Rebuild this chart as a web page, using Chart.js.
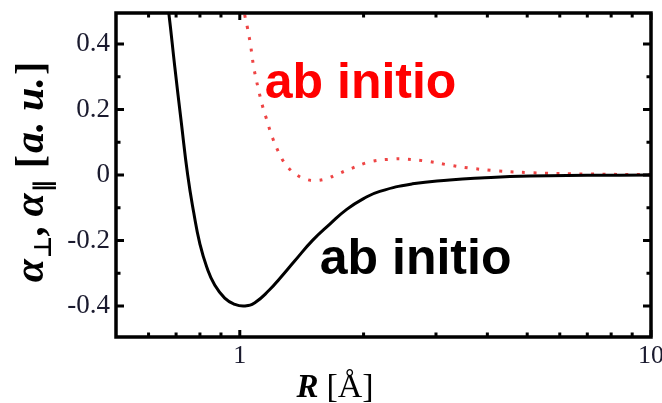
<!DOCTYPE html>
<html>
<head>
<meta charset="utf-8">
<script src="https://cdn.jsdelivr.net/npm/chart.js@4"></script>
<style>
  html, body { margin: 0; padding: 0; background: #fff; }
  #wrap { width: 662px; height: 403px; position: relative; }
</style>
</head>
<body>
<div id="wrap"><canvas id="c" width="662" height="403"></canvas></div>
<script>
// Polarizability anisotropy components vs. separation R (Å), ab initio curves
const rBlack = [0.655, 0.672, 0.695, 0.721, 0.747, 0.773, 0.799, 0.831, 0.869, 0.919, 0.972, 1.028, 1.088, 1.183, 1.251, 1.361, 1.505, 1.656, 1.82, 2.0, 2.19, 2.63, 3.24, 3.84, 5.08, 7.0, 10.0];
const alphaBlack = [0.60, 0.495, 0.33, 0.159, 0.0, -0.116, -0.208, -0.281, -0.336, -0.376, -0.395, -0.400, -0.390, -0.350, -0.316, -0.262, -0.199, -0.150, -0.105, -0.072, -0.050, -0.027, -0.015, -0.009, -0.003, -0.001, 0.0];

const rRed = [1.015, 1.028, 1.042, 1.062, 1.081, 1.108, 1.139, 1.161, 1.20, 1.263, 1.309, 1.369, 1.447, 1.537, 1.637, 1.73, 1.85, 2.07, 2.36, 2.52, 2.85, 3.24, 3.69, 4.2, 5.1, 7.0, 10.0];
const alphaRed = [0.56, 0.49, 0.455, 0.397, 0.33, 0.266, 0.205, 0.172, 0.115, 0.052, 0.024, 0.002, -0.013, -0.017, -0.010, 0.003, 0.018, 0.040, 0.049, 0.049, 0.042, 0.030, 0.020, 0.013, 0.007, 0.003, 0.001];

const xTickValues = [1, 10];
const xTickLabels = ['1', '10'];
const xMinorTicks = [0.6, 0.7, 0.8, 0.9, 2, 3, 4, 5, 6, 7, 8, 9];
const yTickValues = [-0.4, -0.2, 0, 0.2, 0.4];
const yTickLabels = ['-0.4', '-0.2', '0', '0.2', '0.4'];
const yMinorTicks = [-0.3, -0.1, 0.1, 0.3];

const seriesLabels = ['ab initio', 'ab initio'];
// label anchor points in data units (left edge, baseline)
const labelAnchors = [{ x: 1.15, y: 0.235 }, { x: 1.565, y: -0.302 }];

const toPoints = (xs, ys) => xs.map((x, i) => ({ x: x, y: ys[i] }));

// Inward ticks on all four sides plus the box frame
const framePlugin = {
  id: 'frame',
  afterDatasetsDraw(chart) {
    const { ctx, chartArea: a, scales: { x, y } } = chart;
    ctx.save();
    ctx.strokeStyle = '#000';
    ctx.lineCap = 'butt';
    ctx.lineWidth = 3;
    const majorLen = 7, minorLen = 4.5;
    const tickX = (v, len) => {
      const px = x.getPixelForValue(v);
      ctx.beginPath();
      ctx.moveTo(px, a.bottom); ctx.lineTo(px, a.bottom - len);
      ctx.moveTo(px, a.top); ctx.lineTo(px, a.top + len);
      ctx.stroke();
    };
    const tickY = (v, len) => {
      const py = y.getPixelForValue(v);
      ctx.beginPath();
      ctx.moveTo(a.left, py); ctx.lineTo(a.left + len, py);
      ctx.moveTo(a.right, py); ctx.lineTo(a.right - len, py);
      ctx.stroke();
    };
    xTickValues.forEach(v => tickX(v, majorLen));
    xMinorTicks.forEach(v => tickX(v, minorLen));
    yTickValues.forEach(v => tickY(v, majorLen + 1));
    yMinorTicks.forEach(v => tickY(v, minorLen));
    ctx.lineWidth = 3.5;
    ctx.strokeRect(a.left, a.top, a.right - a.left, a.bottom - a.top);
    ctx.restore();
  }
};

// Curve labels and the axis titles with subscript styling
const textPlugin = {
  id: 'texts',
  afterDraw(chart) {
    const { ctx, chartArea: a, scales: { x, y } } = chart;
    ctx.save();
    ctx.textBaseline = 'alphabetic';
    ctx.textAlign = 'left';
    ctx.font = 'bold 50px "Liberation Sans", Arial, sans-serif';
    const colors = ['#ff0000', '#000000'];
    labelAnchors.forEach((p, i) => {
      ctx.fillStyle = colors[i];
      ctx.fillText(seriesLabels[i], x.getPixelForValue(p.x), y.getPixelForValue(p.y));
    });

    // run of styled text segments along a baseline
    const drawRun = (segs, x0, y0) => {
      let cx = x0;
      segs.forEach(s => {
        ctx.font = s.font;
        ctx.fillText(s.t, cx, y0 + (s.dy || 0));
        cx += ctx.measureText(s.t).width + (s.gap || 0);
      });
      return cx;
    };
    const measureRun = segs => segs.reduce((w, s) => { ctx.font = s.font; return w + ctx.measureText(s.t).width + (s.gap || 0); }, 0);

    ctx.fillStyle = '#000';
    const serif = '"Liberation Serif", "DejaVu Serif", serif';
    const bi = 'italic bold 42px ' + serif;
    const bu = 'bold 40px ' + serif;
    const sub = 'bold 24px "DejaVu Sans", sans-serif';
    const ySegs = [
      { t: 'α', font: bi, gap: 1 },
      { t: '⊥', font: sub, dy: 8, gap: 1 },
      { t: ',', font: bi, gap: 8 },
      { t: 'α', font: bi, gap: 1 },
      { t: '∥', font: sub, dy: 8, gap: 12 },
      { t: '[', font: bu, gap: 2 },
      { t: 'a. u.', font: bi, gap: 2 },
      { t: ']', font: bu }
    ];
    const yw = measureRun(ySegs);
    ctx.save();
    ctx.translate(43, (a.top + a.bottom) / 2 - 3);
    ctx.rotate(-Math.PI / 2);
    drawRun(ySegs, -yw / 2, 0);
    ctx.restore();

    const xSegs = [
      { t: 'R', font: 'italic bold 33px ' + serif, gap: 8 },
      { t: '[Å]', font: '34px ' + serif }
    ];
    const xw = measureRun(xSegs);
    drawRun(xSegs, 335 - xw / 2, 397);
    ctx.restore();
  }
};

new Chart(document.getElementById('c'), {
  type: 'line',
  data: {
    datasets: [
      {
        label: seriesLabels[1],
        data: toPoints(rBlack, alphaBlack),
        borderColor: '#000',
        borderWidth: 3,
        pointRadius: 0,
        tension: 0.5,
        fill: false
      },
      {
        label: seriesLabels[0],
        data: toPoints(rRed, alphaRed),
        borderColor: 'rgba(236, 48, 48, 0.9)',
        borderWidth: 3,
        borderDash: [3, 8.5],
        pointRadius: 0,
        tension: 0.4,
        fill: false
      }
    ]
  },
  options: {
    responsive: false,
    animation: false,
    devicePixelRatio: 1,
    layout: { padding: { top: 13, right: 11, left: 0, bottom: 0 } },
    plugins: { legend: { display: false }, tooltip: { enabled: false } },
    scales: {
      x: {
        type: 'logarithmic',
        min: 0.5,
        max: 10,
        grid: { display: false, drawTicks: false },
        border: { display: false },
        afterBuildTicks: s => { s.ticks = xTickValues.map(v => ({ value: v })); },
        afterFit: s => { s.height = 66; s.paddingLeft = 0; s.paddingRight = 0; },
        ticks: {
          padding: 4,
          autoSkip: false,
          maxRotation: 0,
          color: '#1a1a2e',
          font: { family: '"Liberation Serif", serif', size: 26 },
          callback: (v, i) => xTickLabels[i]
        }
      },
      y: {
        type: 'linear',
        min: -0.495,
        max: 0.495,
        grid: { display: false, drawTicks: false },
        border: { display: false },
        afterBuildTicks: s => { s.ticks = yTickValues.map(v => ({ value: v })); },
        afterFit: s => { s.width = 116; s.paddingTop = 0; s.paddingBottom = 0; },
        ticks: {
          padding: 6,
          color: '#1a1a2e',
          font: { family: '"Liberation Serif", serif', size: 27 },
          callback: (v, i) => yTickLabels[i]
        }
      }
    }
  },
  plugins: [framePlugin, textPlugin]
});
</script>
</body>
</html>
